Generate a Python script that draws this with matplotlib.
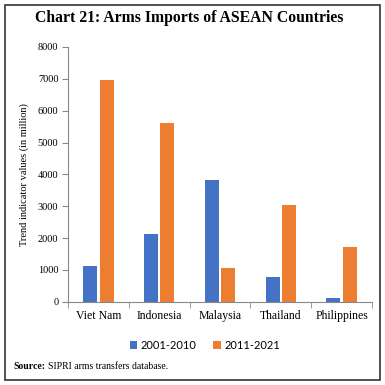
import matplotlib.pyplot as plt
import matplotlib.patches as patches
import numpy as np

countries = ["Viet Nam", "Indonesia", "Malaysia", "Thailand", "Philippines"]
p2001_2010 = [1130, 2120, 3830, 770, 120]
p2011_2021 = [6950, 5600, 1060, 3050, 1720]
series_names = ["2001-2010", "2011-2021"]

blue = "#4472C4"
orange = "#ED7D31"
serif = "Liberation Serif"

fig = plt.figure(figsize=(3.85, 3.85), dpi=100)
ax = fig.add_axes([0.177, 0.216, 0.789, 0.662])

x = np.arange(len(countries))
w = 0.23
ax.bar(x - 0.135, p2001_2010, w, color=blue, label=series_names[0], zorder=2)
ax.bar(x + 0.135, p2011_2021, w, color=orange, label=series_names[1], zorder=2)

ax.set_xlim(-0.5, len(countries) - 0.5)
ax.set_ylim(0, 8000)
ax.set_yticks(np.arange(0, 8001, 1000))
ax.set_xticks(x)
ax.set_xticklabels(countries, fontfamily=serif, fontsize=8.5)
ax.set_xticks(np.arange(-0.5, len(countries), 1), minor=True)
ax.tick_params(axis="x", which="major", length=0, pad=6)
ax.tick_params(axis="x", which="minor", length=4, color="#888888", direction="out")
ax.tick_params(axis="y", length=4, color="#888888", labelsize=7.5, pad=3)
for lbl in ax.get_yticklabels():
    lbl.set_fontfamily(serif)

for s in ["top", "right"]:
    ax.spines[s].set_visible(False)
ax.spines["left"].set_color("#888888")
ax.spines["bottom"].set_color("#888888")

ax.set_ylabel("Trend indicator values (in million)", fontfamily=serif, fontsize=7.5, labelpad=6)

ax.legend(loc="upper center", bbox_to_anchor=(0.45, -0.11), ncol=2, frameon=False,
          prop={"family": "Lato", "size": 8}, handlelength=0.7, handleheight=0.7,
          handletextpad=0.3, columnspacing=1.5)

fig.text(0.09, 0.953, "Chart 21: Arms Imports of ASEAN Countries", fontfamily=serif,
         fontsize=11.3, fontweight="bold", va="center", ha="left")
fig.text(0.034, 0.047, "Source:", fontfamily=serif, fontsize=7, fontweight="bold", va="center")
fig.text(0.124, 0.047, "SIPRI arms transfers database.", fontfamily=serif, fontsize=7, va="center")

fig.patches.append(patches.Rectangle((0.013, 0.013), 0.974, 0.974, transform=fig.transFigure,
                                     fill=False, edgecolor="#333333", linewidth=1.2))

fig.savefig("out.png", dpi=100)
